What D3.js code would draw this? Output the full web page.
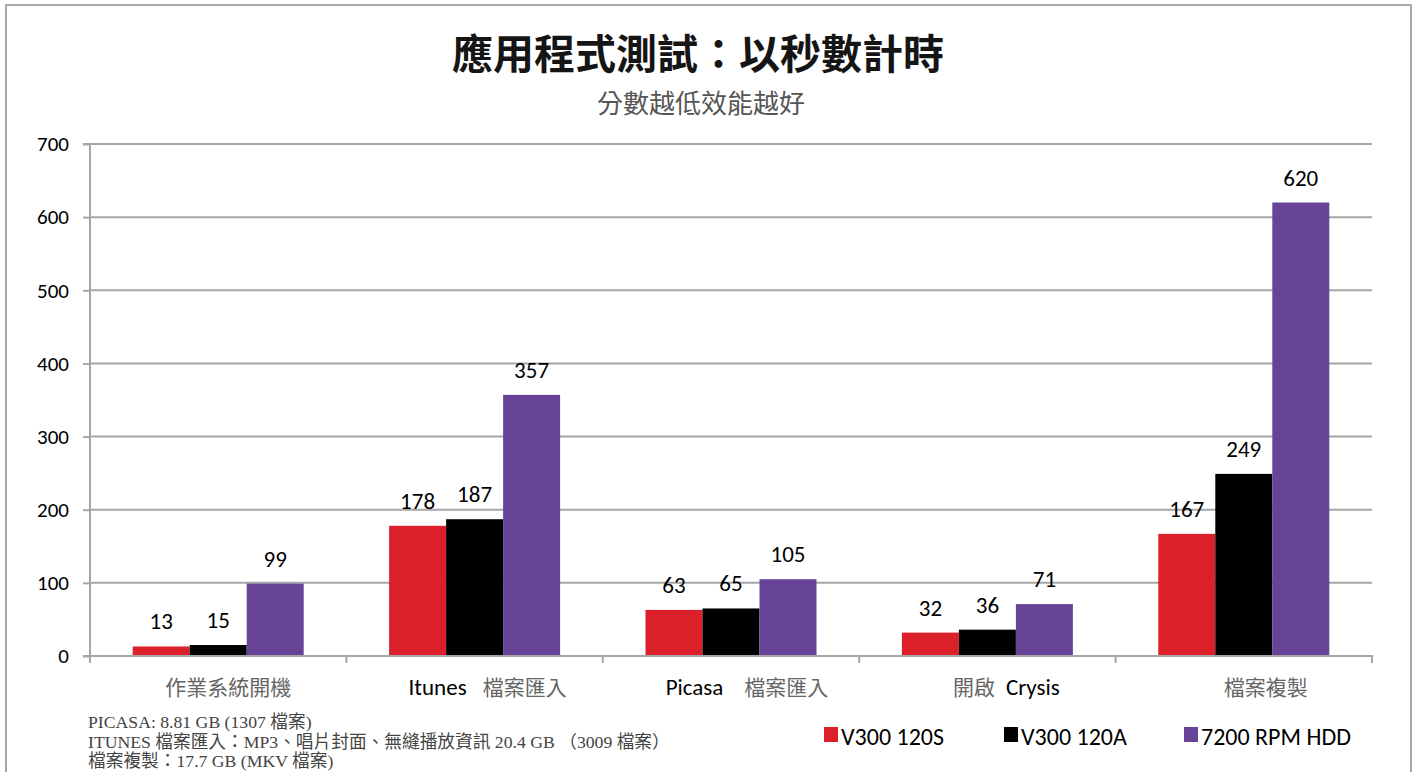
<!DOCTYPE html>
<html><head><meta charset="utf-8">
<script src="https://cdn.jsdelivr.net/npm/d3@7"></script>
<style>body{margin:0;background:#fff}svg{display:block}</style>
</head><body>
<script>
const categories = [
  [{t:"作業系統開機", c:"cjk"}],
  [{t:"Itunes", c:"lat"}, {t:"檔案匯入", c:"cjk", gap:16}],
  [{t:"Picasa", c:"lat"}, {t:"檔案匯入", c:"cjk", gap:21}],
  [{t:"開啟", c:"cjk"}, {t:"Crysis", c:"lat", gap:11}],
  [{t:"檔案複製", c:"cjk"}]
];
const seriesNames = ["V300 120S", "V300 120A", "7200 RPM HDD"];
const v300_120S = [13, 178, 63, 32, 167];
const v300_120A = [15, 187, 65, 36, 249];
const hdd7200   = [99, 357, 105, 71, 620];
const yTicks = [0, 100, 200, 300, 400, 500, 600, 700];
const colors = ["#DC2029", "#000000", "#674498"];
const title = "應用程式測試：以秒數計時";
const subtitle = "分數越低效能越好";
const notes = [
  "PICASA: 8.81 GB (1307 檔案)",
  "ITUNES 檔案匯入：MP3、唱片封面、無縫播放資訊 20.4 GB （3009 檔案）",
  "檔案複製：17.7 GB (MKV 檔案)"
];
const series = [v300_120S, v300_120A, hdd7200];

const W = 1416, H = 775;
const svg = d3.select("body").append("svg").attr("width", W).attr("height", H);
const latFont = "Carlito, Calibri, Lato, 'Open Sans', sans-serif";
const cjkFont = "'Noto Sans CJK TC', sans-serif";

// border
svg.append("path").attr("d", `M6,772 V5 H1411 V772`).attr("fill","none")
  .attr("stroke","#a8a8a8").attr("stroke-width",2);

const x0 = 90, x1 = 1372, yTop = 144, yBot = 656;
const x = d3.scaleBand().domain(d3.range(categories.length)).range([x0, x1]).paddingInner(0).paddingOuter(0);
const y = d3.scaleLinear().domain([0, 700]).range([yBot, yTop]);

// gridlines
svg.append("g").selectAll("line").data(yTicks.slice(1)).join("line")
  .attr("x1", x0).attr("x2", x1).attr("y1", d=>y(d)).attr("y2", d=>y(d))
  .attr("stroke","#a6a6a6").attr("stroke-width",2);

// y axis
const yAxis = svg.append("g").attr("transform",`translate(${x0},0)`)
  .call(d3.axisLeft(y).tickValues(yTicks).tickSize(7).tickPadding(14));
yAxis.select(".domain").attr("stroke","#a6a6a6").attr("stroke-width",2).attr("d",`M-7,${yTop}H0V${yBot}H-7`);
yAxis.selectAll(".tick line").attr("stroke","#a6a6a6").attr("stroke-width",2);
yAxis.selectAll(".tick text").attr("font-family", latFont).attr("font-size", 21).attr("fill","#000");

// bars
const barW = 57;
const groups = svg.append("g").selectAll("g").data(categories).join("g")
  .attr("transform", (d,i)=>`translate(${x(i)},0)`);
series.forEach((s, si) => {
  groups.append("rect")
    .attr("x", (d,i) => x.bandwidth()/2 - 1.5*barW + si*barW)
    .attr("width", barW)
    .attr("y", (d,i) => y(s[i]))
    .attr("height", (d,i) => yBot - y(s[i]))
    .attr("fill", colors[si]);
  groups.append("text")
    .attr("x", (d,i) => x.bandwidth()/2 - 1.5*barW + si*barW + barW/2)
    .attr("y", (d,i) => y(s[i]) - 17)
    .attr("text-anchor","middle").attr("font-family", latFont).attr("font-size", 23).attr("fill","#000")
    .text((d,i) => s[i]);
});

// x axis
const xAxisG = svg.append("g");
xAxisG.append("line").attr("x1", x0-1).attr("x2", x1+1).attr("y1", yBot).attr("y2", yBot)
  .attr("stroke","#a6a6a6").attr("stroke-width",2);
const bounds = d3.range(categories.length+1).map(i => i < categories.length ? x(i) : x1);
xAxisG.selectAll("line.t").data(bounds).join("line").attr("class","t")
  .attr("x1", d=>d).attr("x2", d=>d).attr("y1", yBot).attr("y2", yBot+7)
  .attr("stroke","#a6a6a6").attr("stroke-width",2);
xAxisG.selectAll("text").data(categories).join("text")
  .attr("x", (d,i)=> x(i) + x.bandwidth()/2 + 10 + 3*i).attr("y", 695)
  .attr("text-anchor","middle").attr("font-size", 21)
  .each(function(d){
    d3.select(this).selectAll("tspan").data(d).join("tspan")
      .attr("dx", p => p.gap || 0)
      .attr("font-family", p => p.c === "cjk" ? cjkFont : latFont)
      .attr("fill", p => p.c === "cjk" ? "#666" : "#000")
      .attr("font-size", p => p.c === "cjk" ? 21 : 23)
      .text(p => p.t);
  });

// title
svg.append("text").attr("x", 698).attr("y", 69).attr("text-anchor","middle")
  .attr("font-family", cjkFont).attr("font-weight", "bold").attr("font-size", 41).attr("fill","#151515")
  .text(title);
svg.append("text").attr("x", 701).attr("y", 113).attr("text-anchor","middle")
  .attr("font-family", cjkFont).attr("font-size", 26).attr("fill","#555")
  .text(subtitle);

// notes
svg.append("g").selectAll("text").data(notes).join("text")
  .attr("x", 88).attr("y", (d,i)=> 728 + i*19.5)
  .attr("font-family", "'Liberation Serif', 'Noto Sans CJK TC', serif").attr("font-size", 17.7).attr("fill","#444")
  .text(d=>d);

// legend
const legX = [824, 1004, 1184];
const leg = svg.append("g").selectAll("g").data(seriesNames).join("g")
  .attr("transform", (d,i)=>`translate(${legX[i]},727)`);
leg.append("rect").attr("width", 14).attr("height", 15).attr("fill", (d,i)=>colors[i]);
leg.append("text").attr("x", 17).attr("y", 18).attr("font-family", latFont).attr("font-size", 24).attr("fill","#000")
  .text(d=>d);
</script>
</body></html>
